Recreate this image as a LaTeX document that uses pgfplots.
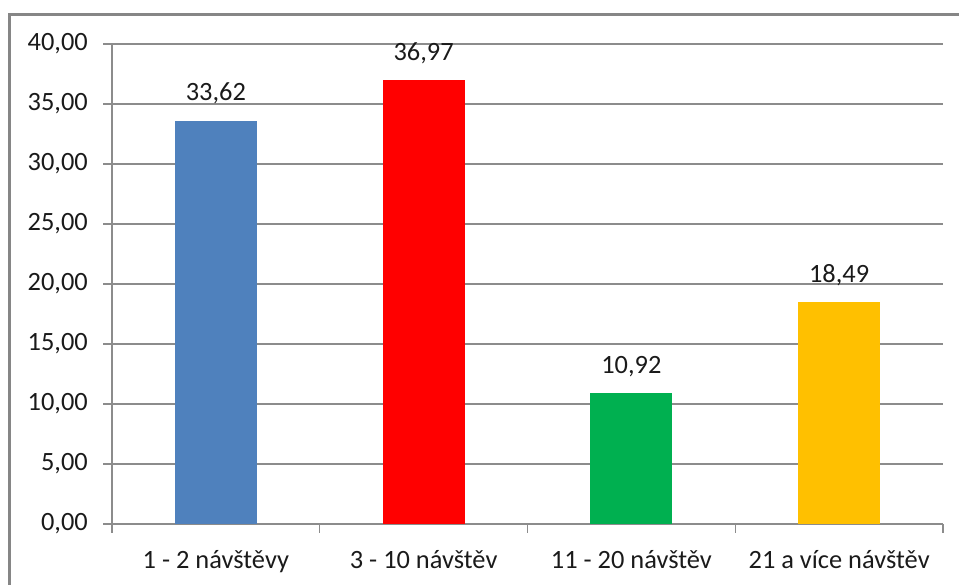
\documentclass[border=0pt]{standalone}
\usepackage{pgfplots}
\pgfplotsset{compat=1.18}
\usepackage{fontspec}
\setmainfont{Carlito}
\definecolor{cblue}{HTML}{4F81BD}
\definecolor{cred}{HTML}{FF0000}
\definecolor{cgreen}{HTML}{00B050}
\definecolor{cyellow}{HTML}{FFC000}
\definecolor{gridgray}{HTML}{8C8C8C}
\definecolor{framegray}{HTML}{868686}
\definecolor{txt}{HTML}{1A1A1A}
\begin{document}
\begin{tikzpicture}[x=1bp,y=1bp,font=\fontsize{26.5}{31}\selectfont]
\useasboundingbox (0,0) rectangle (959,585);
\clip (0,0) rectangle (959,585);
\draw[framegray, line width=2.5bp] (9.5,-20) |- (990,570.5);
\begin{axis}[
  at={(112bp,61bp)}, anchor=south west,
  scale only axis, width=831bp, height=480bp,
  xmin=-0.5, xmax=3.5, ymin=0, ymax=40,
  ytick={0,5,...,40},
  xtick={0,1,2,3},
  xticklabels={1 - 2 návštěvy, 3 - 10 návštěv, 11 - 20 návštěv, 21 a více návštěv},
  minor xtick={-0.5,0.5,1.5,2.5,3.5},
  major x tick style={draw=none},
  tick align=outside,
  major tick length=9bp, minor tick length=9bp,
  tick style={gridgray, line width=1.2bp},
  axis x line*=bottom, axis y line*=left,
  axis line style={gridgray, line width=1.2bp, -},
  ymajorgrids, grid style={gridgray, line width=1.2bp},
  ticklabel style={text=txt},
  /pgf/number format/.cd, use comma, fixed, fixed zerofill, precision=2, assume math mode=true,
  /pgfplots/.cd,
  yticklabel style={anchor=east, inner sep=0pt, xshift=-15bp},
  xticklabel style={anchor=base, inner sep=0pt, yshift=-36bp},
  ybar, bar width=82bp, bar shift=0pt,
  nodes near coords,
  nodes near coords style={anchor=south, inner sep=0pt, yshift=16bp, text=txt},
  clip=false,
]
\addplot[fill=cblue, draw=none] coordinates {(0,33.62)};
\addplot[fill=cred, draw=none] coordinates {(1,36.97)};
\addplot[fill=cgreen, draw=none] coordinates {(2,10.92)};
\addplot[fill=cyellow, draw=none] coordinates {(3,18.49)};
\end{axis}
\end{tikzpicture}
\end{document}
